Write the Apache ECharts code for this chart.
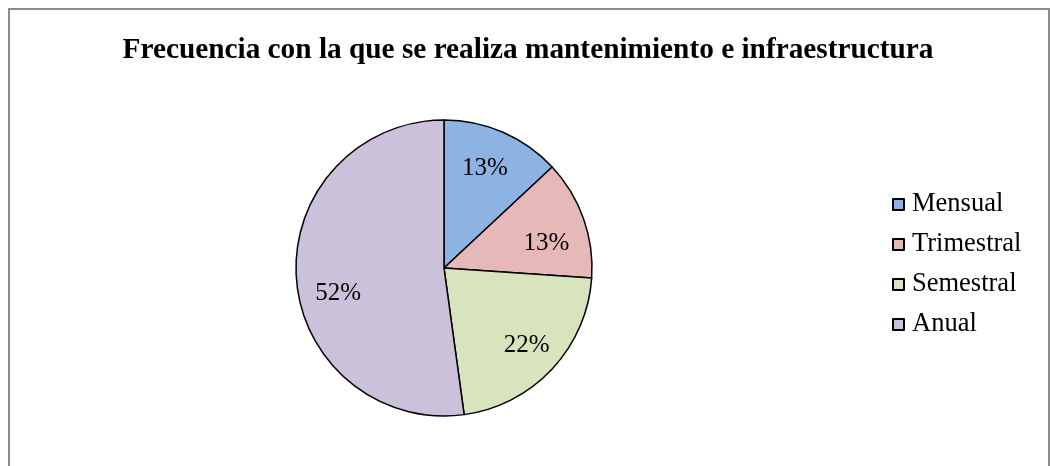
<!DOCTYPE html>
<html>
<head>
<meta charset="utf-8">
<script src="https://cdn.jsdelivr.net/npm/echarts@6/dist/echarts.min.js"></script>
<style>
  html, body { margin: 0; padding: 0; background: #fff; }
  #main { position: absolute; left: 0; top: 0; width: 1050px; height: 466px; }
  #frame { position: absolute; left: 8px; top: 8px; width: 1038px; height: 470px;
           border: 2px solid #8c8c8c; pointer-events: none; }
</style>
</head>
<body>
<div id="main"></div>
<div id="frame"></div>
<script>
// datos de la encuesta
var categorias = ['Mensual', 'Trimestral', 'Semestral', 'Anual'];
var valores = [3, 3, 5, 12];
var colores = ['#8DB3E2', '#E6B9B8', '#D7E4BD', '#CCC1DA'];

var fuente = 'Liberation Serif';
var chart = echarts.init(document.getElementById('main'));

var datos = [], datosEtiqueta = [];
for (var i = 0; i < categorias.length; i++) {
    datos.push({ name: categorias[i], value: valores[i], itemStyle: { color: colores[i] } });
    datosEtiqueta.push({ name: categorias[i], value: valores[i] });
}
// ajuste fino de algunas etiquetas, como en el original
datosEtiqueta[0].label = { offset: [-4, 4] };
datosEtiqueta[1].label = { offset: [-4, 13] };
datosEtiqueta[3].label = { offset: [7, 18] };

var option = {
    animation: false,
    title: {
        text: 'Frecuencia con la que se realiza mantenimiento e infraestructura',
        left: 523, top: 31, textAlign: 'center',
        textStyle: { fontFamily: fuente, fontSize: 29.3, fontWeight: 'bold', color: '#000' }
    },
    legend: {
        orient: 'vertical',
        left: 887, top: 186,
        icon: 'rect', itemWidth: 11, itemHeight: 11, itemGap: 13,
        data: categorias,
        itemStyle: { borderColor: '#000', borderWidth: 2 },
        textStyle: { fontFamily: fuente, fontSize: 26.5, color: '#000', padding: [0, 0, 0, 3] }
    },
    series: [
        {
            type: 'pie',
            center: [444, 268], radius: 148,
            startAngle: 90, clockwise: true,
            label: { show: false }, labelLine: { show: false },
            itemStyle: { borderColor: '#000', borderWidth: 1.5 },
            emphasis: { disabled: true },
            data: datos
        },
        {
            // serie transparente solo para colocar las etiquetas
            type: 'pie', silent: true,
            center: [444, 268], radius: [72, 148],
            startAngle: 90, clockwise: true,
            percentPrecision: 0,
            itemStyle: { color: 'transparent', borderWidth: 0 },
            label: {
                position: 'inside', formatter: '{d}%',
                fontFamily: fuente, fontSize: 25, color: '#000'
            },
            labelLine: { show: false },
            emphasis: { disabled: true },
            data: datosEtiqueta
        }
    ]
};
chart.setOption(option);
</script>
</body>
</html>
